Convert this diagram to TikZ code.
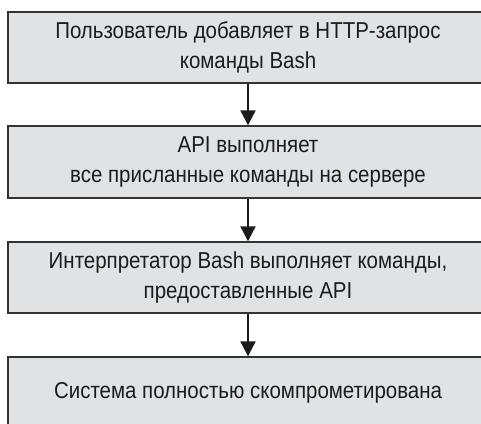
\documentclass[tikz,border=0pt]{standalone}
\usepackage{fontspec}
\setmainfont{Liberation Sans}
\newfontfamily\boxfont[FakeStretch=0.89]{Liberation Sans}
\usetikzlibrary{arrows.meta}
\definecolor{boxfill}{HTML}{E1E2E4}
\definecolor{boxline}{HTML}{333333}
\definecolor{ink}{HTML}{1C1C1C}
\begin{document}
\begin{tikzpicture}[x=1pt,y=-1pt,
  stepbox/.style={draw=boxline, line width=1.4pt, fill=boxfill, minimum width=480pt, text=ink,
    align=center, inner sep=0pt, font=\boxfont\fontsize{23}{30}\selectfont},
  flow/.style={draw=ink, line width=2.2pt, -{Triangle[width=15pt,length=15pt]}}]
\clip (0,0) rectangle (481,423);
\useasboundingbox (0,0) rectangle (481,423);
\node[stepbox, minimum height=71pt] (b1) at (248,47.5) {Пользователь добавляет в HTTP-запрос\\команды Bash};
\node[stepbox, minimum height=72pt] (b2) at (248,162) {API выполняет\\все присланные команды на сервере};
\node[stepbox, minimum height=71pt] (b3) at (248,277.5) {Интерпретатор Bash выполняет команды,\\предоставленные API};
\node[stepbox, minimum height=72pt] (b4) at (248,393) {Система полностью скомпрометирована};
\draw[flow] (b1) -- (b2);
\draw[flow] (b2) -- (b3);
\draw[flow] (b3) -- (b4);
\end{tikzpicture}
\end{document}
